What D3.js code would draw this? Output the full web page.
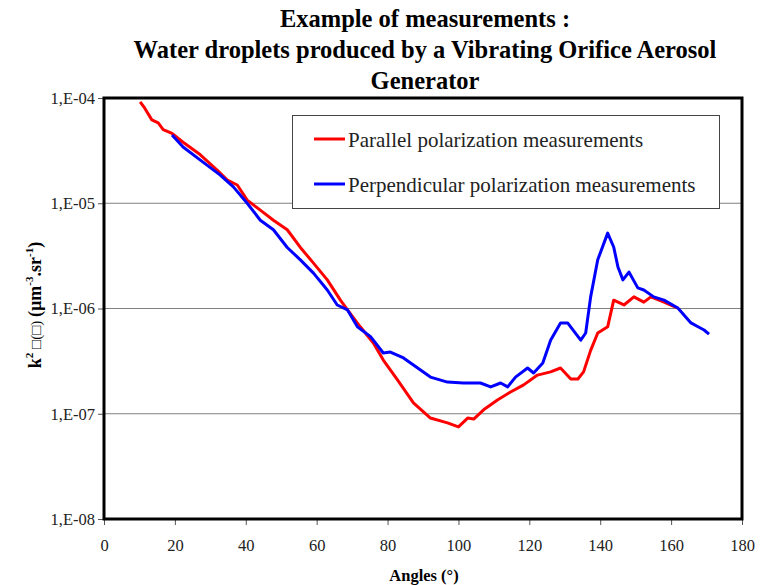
<!DOCTYPE html>
<html>
<head>
<meta charset="utf-8">
<script src="https://cdn.jsdelivr.net/npm/d3@7/dist/d3.min.js"></script>
<style>
  html, body { margin: 0; padding: 0; background: #fff; }
  svg { display: block; }
  text { font-family: "Liberation Serif", "Times New Roman", serif; }
</style>
</head>
<body>
<svg id="chart" width="760" height="585"></svg>
<script>
// ---- data ----
const titleLines = ["Example of measurements :", "Water droplets produced by a Vibrating Orifice Aerosol", "Generator"];
const xTicks = [0, 20, 40, 60, 80, 100, 120, 140, 160, 180];
const yTicks = [1e-8, 1e-7, 1e-6, 1e-5, 1e-4];
const yTickLabels = ["1,E-08", "1,E-07", "1,E-06", "1,E-05", "1,E-04"];
const seriesNames = ["Parallel polarization measurements", "Perpendicular polarization measurements"];

const parallelAngles = [10.2, 11.5, 13.5, 15.3, 16.7, 19.2, 22.3, 27.1, 31.9, 34.8, 37.6, 40.4, 44.1, 47.8, 51.7, 55.4, 59.1, 63.0, 66.7, 68.7, 72.3, 76.0,
  78.8, 82.8, 87.3, 92.1, 96.9, 100.0, 102.6, 104.3, 107.1, 111.0, 114.7, 118.4, 122.3, 126.0, 128.8, 131.7, 133.7, 135.3, 137.3, 139.3, 142.1, 143.8,
  146.7, 149.5, 152.3, 154.3, 158.0, 161.9];
const parallelValues = [9.2e-5, 8.0e-5, 6.2e-5, 5.8e-5, 5.0e-5, 4.6e-5, 3.8e-5, 2.9e-5, 2.07e-5, 1.66e-5, 1.49e-5, 1.07e-5, 8.6e-6, 6.9e-6, 5.6e-6, 3.8e-6, 2.7e-6, 1.87e-6, 1.2e-6, 9.7e-7, 6.7e-7, 4.7e-7,
  3.24e-7, 2.1e-7, 1.27e-7, 9.1e-8, 8.2e-8, 7.5e-8, 9.1e-8, 8.9e-8, 1.09e-7, 1.35e-7, 1.61e-7, 1.88e-7, 2.33e-7, 2.5e-7, 2.72e-7, 2.14e-7, 2.14e-7, 2.5e-7, 4.0e-7, 5.85e-7, 6.7e-7, 1.2e-6,
  1.08e-6, 1.29e-6, 1.15e-6, 1.29e-6, 1.15e-6, 1.01e-6];

const perpAngles = [19.2, 22.3, 27.1, 32.8, 36.5, 40.4, 44.1, 47.8, 51.7, 55.4, 59.1, 63.0, 65.8, 68.7, 71.5, 75.2, 78.8, 80.8, 84.5, 89.3, 92.1, 96.9,
  101.4, 106.2, 109.1, 111.9, 113.9, 116.1, 119.5, 121.2, 123.8, 126.0, 128.8, 130.8, 134.5, 135.9, 137.3, 139.3, 142.1, 143.8, 145.0, 146.4, 148.1,
  150.6, 152.3, 155.1, 158.0, 161.9, 165.6, 167.6, 169.3, 170.7];
const perpValues = [4.45e-5, 3.42e-5, 2.58e-5, 1.85e-5, 1.43e-5, 1.0e-5, 6.9e-6, 5.6e-6, 3.8e-6, 2.9e-6, 2.17e-6, 1.5e-6, 1.08e-6, 9.7e-7, 6.7e-7, 5.4e-7, 3.78e-7, 3.86e-7, 3.39e-7, 2.6e-7, 2.23e-7, 2.0e-7,
  1.96e-7, 1.96e-7, 1.8e-7, 1.96e-7, 1.8e-7, 2.23e-7, 2.72e-7, 2.44e-7, 3.03e-7, 5.0e-7, 7.3e-7, 7.3e-7, 5.0e-7, 5.85e-7, 1.29e-6, 2.9e-6, 5.2e-6, 3.84e-6, 2.48e-6, 1.87e-6, 2.22e-6,
  1.57e-6, 1.5e-6, 1.29e-6, 1.2e-6, 1.01e-6, 7.3e-7, 6.7e-7, 6.25e-7, 5.7e-7];

// ---- layout ----
const svg = d3.select("#chart");
const L = 104, R = 742, T = 98, B = 519;
const x = d3.scaleLinear().domain([0, 180]).range([L, R]);
const y = d3.scaleLog().domain([1e-8, 1e-4]).range([B, T]);

// title
svg.append("g").selectAll("text").data(titleLines).join("text")
  .attr("x", 425).attr("y", (d, i) => 27 + i * 31)
  .attr("text-anchor", "middle")
  .attr("font-size", 24.5).attr("font-weight", "bold")
  .text(d => d);

// gridlines
svg.append("g").selectAll("line").data(yTicks.slice(1, -1)).join("line")
  .attr("x1", L).attr("x2", R)
  .attr("y1", d => y(d)).attr("y2", d => y(d))
  .attr("stroke", "#808080").attr("stroke-width", 1);

// y axis
const yAxis = d3.axisLeft(y).tickValues(yTicks)
  .tickFormat((d, i) => yTickLabels[i]).tickSize(6).tickPadding(3);
const gy = svg.append("g").attr("transform", `translate(${L},0)`).call(yAxis);
gy.attr("font-family", null);
gy.select(".domain").remove();
gy.selectAll("line").attr("stroke", "#555");
gy.selectAll("text").attr("font-size", 16.5).attr("fill", "#222")
  .style("font-family", "'Liberation Serif', serif");

// x axis
const xAxis = d3.axisBottom(x).tickValues(xTicks).tickSize(6).tickPadding(14);
const gx = svg.append("g").attr("transform", `translate(0,${B})`).call(xAxis);
gx.attr("font-family", null);
gx.select(".domain").remove();
gx.selectAll("line").attr("stroke", "#555");
gx.selectAll("text").attr("font-size", 16.5).attr("fill", "#222")
  .style("font-family", "'Liberation Serif', serif");

// lines
const line = d3.line().x(d => x(d[0])).y(d => y(d[1]));
const parData = parallelAngles.map((a, i) => [a, parallelValues[i]]);
const perpData = perpAngles.map((a, i) => [a, perpValues[i]]);
svg.append("path").datum(parData).attr("d", line)
  .attr("fill", "none").attr("stroke", "#ff0000").attr("stroke-width", 3).attr("stroke-linejoin", "round");
svg.append("path").datum(perpData).attr("d", line)
  .attr("fill", "none").attr("stroke", "#0000ff").attr("stroke-width", 3).attr("stroke-linejoin", "round");

// frame
svg.append("rect").attr("x", L).attr("y", T).attr("width", R - L).attr("height", B - T)
  .attr("fill", "none").attr("stroke", "#000").attr("stroke-width", 3);

// legend
const lg = svg.append("g");
lg.append("rect").attr("x", 292.5).attr("y", 115.5).attr("width", 427).attr("height", 93)
  .attr("fill", "#fff").attr("stroke", "#444").attr("stroke-width", 1);
const colors = ["#ff0000", "#0000ff"];
seriesNames.forEach((n, i) => {
  const yy = 139 + i * 45;
  lg.append("line").attr("x1", 314).attr("x2", 345).attr("y1", yy).attr("y2", yy)
    .attr("stroke", colors[i]).attr("stroke-width", 3);
  lg.append("text").attr("x", 348).attr("y", yy + 8).attr("font-size", 21).attr("fill", "#222").text(n);
});

// axis titles
svg.append("text").attr("x", 424).attr("y", 581).attr("text-anchor", "middle")
  .attr("font-size", 16.5).attr("font-weight", "bold").text("Angles (°)");

const yl = svg.append("text").attr("transform", "translate(41,305) rotate(-90)")
  .attr("text-anchor", "middle").attr("font-size", 18).attr("font-weight", "bold");
yl.append("tspan").text("k");
yl.append("tspan").attr("font-size", 11).attr("dy", -8).text("2");
yl.append("tspan").attr("dy", 8).attr("font-size", 15).attr("font-weight", "normal").text(" □(□) ");
yl.append("tspan").text(" (µm");
yl.append("tspan").attr("font-size", 11).attr("dy", -8).text("-3");
yl.append("tspan").attr("dy", 8).text(".sr");
yl.append("tspan").attr("font-size", 11).attr("dy", -8).text("-1");
yl.append("tspan").attr("dy", 8).text(")");
</script>
</body>
</html>
